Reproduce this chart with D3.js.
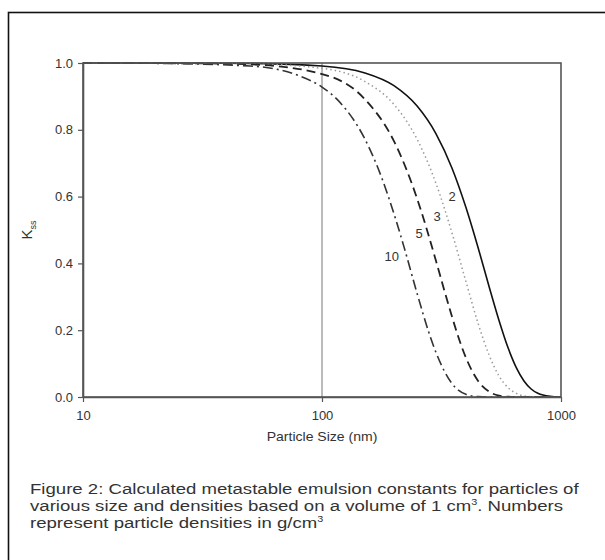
<!DOCTYPE html>
<html>
<head>
<meta charset="utf-8">
<script src="https://cdn.jsdelivr.net/npm/d3@7"></script>
<style>
  body { margin: 0; background: #fff; }
  svg { display: block; font-family: "Liberation Sans", Arial, sans-serif; }
</style>
</head>
<body>
<div id="chart"></div>
<script>
  // Particle size (nm) and K_ss, one pair of arrays per density
  const size2 = [10, 30, 50, 100, 150, 200, 250, 300, 350, 400, 450, 500, 550, 600, 650, 700, 750, 800, 900, 1000];
  const k2 = [1.0, 1.0, 0.999, 0.991, 0.971, 0.932, 0.871, 0.788, 0.685, 0.568, 0.447, 0.331, 0.23, 0.148, 0.088, 0.048, 0.024, 0.011, 0.002, 0.0];

  const size3 = [10, 30, 50, 100, 150, 200, 250, 300, 350, 400, 450, 500, 550, 600, 650, 700, 800, 1000];
  const k3 = [1.0, 1.0, 0.998, 0.984, 0.946, 0.876, 0.772, 0.639, 0.491, 0.346, 0.22, 0.126, 0.063, 0.028, 0.011, 0.003, 0.0, 0.0];

  const size5 = [10, 30, 50, 100, 150, 200, 250, 275, 300, 325, 350, 375, 400, 450, 500, 550, 600, 700, 1000];
  const k5 = [1.0, 0.999, 0.996, 0.967, 0.894, 0.766, 0.594, 0.5, 0.407, 0.319, 0.24, 0.172, 0.118, 0.048, 0.016, 0.004, 0.001, 0.0, 0.0];

  const size10 = [10, 20, 50, 80, 100, 120, 150, 180, 200, 220, 250, 280, 300, 350, 400, 450, 500, 1000];
  const k10 = [1.0, 0.999, 0.991, 0.962, 0.928, 0.879, 0.777, 0.646, 0.549, 0.451, 0.31, 0.193, 0.133, 0.04, 0.008, 0.001, 0.0, 0.0];

  const densityLabels = ["2", "3", "5", "10"];
  // where each density number sits (size nm, K)
  const labelSize = [350, 303, 255, 196];
  const labelK = [0.6, 0.54, 0.49, 0.42];

  const xTicks = [10, 100, 1000];
  const yTicks = [0, 0.2, 0.4, 0.6, 0.8, 1.0];

  const captionLines = [
    "Figure 2: Calculated metastable emulsion constants for particles of",
    "various size and densities based on a volume of 1 cm",
    "represent particle densities in g/cm",
  ];

  const WIDTH = 605;
  const HEIGHT = 560;
  const PLOT = { left: 83, right: 561, top: 63, bottom: 397 };

  const STYLES = [
    { stroke: "#111", width: 1.6, dash: null },
    { stroke: "#9a9a9a", width: 1.5, dash: "1.5,3" },
    { stroke: "#222", width: 1.8, dash: "9,5" },
    { stroke: "#333", width: 1.6, dash: "10,4,2,4" },
  ];

  const svg = d3.select("#chart")
    .append("svg")
    .attr("width", WIDTH)
    .attr("height", HEIGHT);

  // Figure border (runs off the right and bottom of the page)
  svg.append("rect")
    .attr("x", 8.5)
    .attr("y", 12.5)
    .attr("width", 700)
    .attr("height", 700)
    .attr("fill", "#fff")
    .attr("stroke", "#111")
    .attr("stroke-width", 1.6);

  const x = d3.scaleLog().domain([10, 1000]).range([PLOT.left, PLOT.right]);
  const y = d3.scaleLinear().domain([0, 1]).range([PLOT.bottom, PLOT.top]);

  // Reference line at 100 nm
  svg.append("line")
    .attr("x1", x(100)).attr("x2", x(100))
    .attr("y1", y(0)).attr("y2", y(1))
    .attr("stroke", "#777")
    .attr("stroke-width", 1);

  const series = [
    { size: size2, k: k2 },
    { size: size3, k: k3 },
    { size: size5, k: k5 },
    { size: size10, k: k10 },
  ];

  const line = d3.line()
    .x((d) => x(d[0]))
    .y((d) => y(d[1]))
    .curve(d3.curveMonotoneX);

  series.forEach((s, i) => {
    const pts = s.size.map((v, j) => [v, s.k[j]]);
    svg.append("path")
      .attr("d", line(pts))
      .attr("fill", "none")
      .attr("stroke", STYLES[i].stroke)
      .attr("stroke-width", STYLES[i].width)
      .attr("stroke-dasharray", STYLES[i].dash);
  });

  // Plot frame
  svg.append("rect")
    .attr("x", PLOT.left)
    .attr("y", PLOT.top)
    .attr("width", PLOT.right - PLOT.left)
    .attr("height", PLOT.bottom - PLOT.top)
    .attr("fill", "none")
    .attr("stroke", "#555")
    .attr("stroke-width", 1.6);

  // Axes
  const xAxis = svg.append("g")
    .attr("transform", `translate(0,${PLOT.bottom})`)
    .call(d3.axisBottom(x).tickValues(xTicks).tickFormat(d3.format("d")).tickSize(5).tickSizeOuter(0));

  const yAxis = svg.append("g")
    .attr("transform", `translate(${PLOT.left},0)`)
    .call(d3.axisLeft(y).tickValues(yTicks).tickFormat(d3.format(".1f")).tickSize(5).tickSizeOuter(0));

  [xAxis, yAxis].forEach((ax) => {
    ax.attr("font-size", 13).attr("font-family", "'Liberation Sans', Arial, sans-serif");
    ax.select(".domain").attr("stroke", "#555").attr("stroke-width", 1.6);
    ax.selectAll(".tick line").attr("stroke", "#555").attr("stroke-width", 1.2);
    ax.selectAll(".tick text").attr("fill", "#333");
  });
  xAxis.selectAll(".tick text").attr("dy", "1.15em");
  yAxis.selectAll(".tick text").attr("x", -10);

  // Axis titles
  svg.append("text")
    .attr("transform", `translate(${(PLOT.left + PLOT.right) / 2},441) scale(1.08,1)`)
    .attr("text-anchor", "middle")
    .attr("fill", "#333")
    .attr("font-size", 13)
    .text("Particle Size (nm)");

  const yTitle = svg.append("text")
    .attr("transform", `translate(32,${(PLOT.top + PLOT.bottom) / 2}) rotate(-90)`)
    .attr("text-anchor", "middle")
    .attr("fill", "#333")
    .attr("font-size", 15);
  yTitle.append("tspan").text("K");
  yTitle.append("tspan")
    .attr("dy", 4)
    .attr("font-size", 9)
    .text("ss");

  // Density labels
  svg.selectAll(".density-label")
    .data(densityLabels)
    .enter()
    .append("text")
    .attr("class", "density-label")
    .attr("x", (d, i) => x(labelSize[i]))
    .attr("y", (d, i) => y(labelK[i]))
    .attr("text-anchor", "middle")
    .attr("dy", "0.35em")
    .attr("fill", "#333")
    .attr("font-size", 13)
    .text((d) => d);

  // Caption
  const caption = svg.append("g")
    .attr("transform", "translate(30,0) scale(1.2,1)")
    .attr("fill", "#333")
    .attr("font-size", 15.5)
    .style("white-space", "pre");
  captionLines.forEach((t, i) => {
    const txt = caption.append("text")
      .attr("x", 0)
      .attr("y", 494 + i * 17)
      .text(t);
    if (i > 0) {
      txt.append("tspan")
        .attr("dy", -6)
        .attr("font-size", 9)
        .text("3");
    }
    if (i === 1) {
      txt.append("tspan")
        .attr("dy", 6)
        .text(".  Numbers");
    }
  });
</script>
</body>
</html>
